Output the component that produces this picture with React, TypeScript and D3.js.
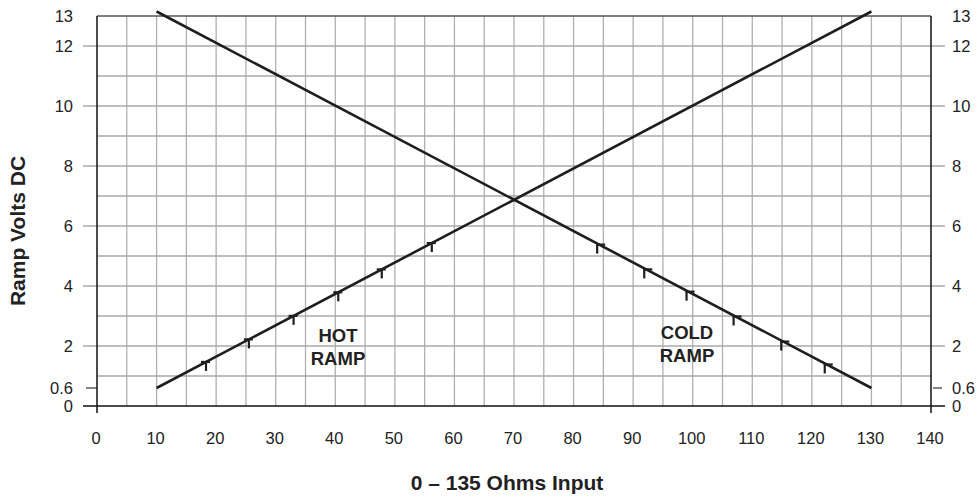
import React from "react";
import * as d3 from "d3";

const W = 978;
const H = 498;

const xTicks = [0, 10, 20, 30, 40, 50, 60, 70, 80, 90, 100, 110, 120, 130, 140];
const xGrid = d3.range(5, 140, 5);
const yGrid = d3.range(1, 13, 1);
const yLabels = [0, 0.6, 2, 4, 6, 8, 10, 12, 13];
const yExtended = [0, 2, 4, 6, 8, 10, 12];

const hotRamp: [number, number][] = [[10, 0.6], [130, 13.15]];
const coldRamp: [number, number][] = [[10, 13.15], [130, 0.6]];
const hotMarks = [18.3, 25.5, 33, 40.5, 47.8, 56.2];
const coldMarks = [84.3, 92.2, 99.3, 107.2, 115.2, 122.5];

const xTitle = "0 – 135 Ohms Input";
const yTitle = "Ramp Volts DC";

const FONT = "Liberation Sans, Arial, Helvetica, sans-serif";

export default function App() {
  const x = d3.scaleLinear().domain([0, 140]).range([97, 931]);
  const y = d3.scaleLinear().domain([0, 13]).range([406, 16]);
  const line = d3.line<[number, number]>().x((d) => x(d[0])).y((d) => y(d[1]));
  const interp = (r: [number, number][], v: number) =>
    r[0][1] + ((v - r[0][0]) / (r[1][0] - r[0][0])) * (r[1][1] - r[0][1]);

  const x0 = x(0);
  const x1 = x(140);
  const fmt = (v: number) => (v === 0.6 ? "0.6" : String(v));

  return (
    <svg width={W} height={H} style={{ position: "absolute", left: 0, top: 0 }} fontFamily={FONT}>
      <rect width={W} height={H} fill="#fff" />
      {/* vertical grid */}
      {xGrid.map((v) => (
        <line key={"vx" + v} x1={x(v)} x2={x(v)} y1={y(13)} y2={y(0)} stroke="#b0b0b0" strokeWidth={1.3} />
      ))}
      {/* horizontal grid */}
      {yGrid.map((v) => {
        const ext = yExtended.includes(v);
        return (
          <line key={"hy" + v} x1={ext ? x0 - 14 : x0} x2={ext ? x1 + 14 : x1} y1={y(v)} y2={y(v)} stroke="#a8a8a8" strokeWidth={1.3} />
        );
      })}
      {/* 0.6 ticks */}
      <line x1={x0 - 11} x2={x0} y1={y(0.6)} y2={y(0.6)} stroke="#333" strokeWidth={1.2} />
      <line x1={x1 + 2} x2={x1 + 11} y1={y(0.6)} y2={y(0.6)} stroke="#333" strokeWidth={1.2} />
      {/* top border */}
      <line x1={x0} x2={x1} y1={y(13)} y2={y(13)} stroke="#555" strokeWidth={1.5} />
      {/* axes */}
      <line x1={x0 - 14} x2={x1 + 14} y1={y(0)} y2={y(0)} stroke="#111" strokeWidth={1.5} />
      <line x1={x0} x2={x0} y1={y(13)} y2={y(0) + 7} stroke="#111" strokeWidth={1.5} />
      <line x1={x1} x2={x1} y1={y(13)} y2={y(0) + 7} stroke="#111" strokeWidth={1.5} />

      {/* ramps */}
      <path d={line(hotRamp) || ""} fill="none" stroke="#1e1e1e" strokeWidth={2.6} />
      <path d={line(coldRamp) || ""} fill="none" stroke="#1e1e1e" strokeWidth={2.6} />
      {hotMarks.map((v) => {
        const px = x(v);
        const py = y(interp(hotRamp, v));
        return (
          <g key={"hm" + v} stroke="#1e1e1e" strokeWidth={2.2}>
            <line x1={px - 5} x2={px + 4} y1={py} y2={py} />
            <line x1={px} x2={px} y1={py} y2={py + 9} />
          </g>
        );
      })}
      {coldMarks.map((v) => {
        const px = x(v);
        const py = y(interp(coldRamp, v));
        return (
          <g key={"cm" + v} stroke="#1e1e1e" strokeWidth={2.2}>
            <line x1={px - 3} x2={px + 6} y1={py} y2={py} />
            <line x1={px - 2} x2={px - 2} y1={py} y2={py + 9} />
          </g>
        );
      })}

      {/* y labels */}
      {yLabels.map((v) => (
        <g key={"yl" + v} fontSize={16.5} fill="#222">
          <text x={73} y={y(v)} dy="0.36em" textAnchor="end">{fmt(v)}</text>
          <text x={952} y={y(v)} dy="0.36em" textAnchor="start">{fmt(v)}</text>
        </g>
      ))}
      {/* x labels */}
      {xTicks.map((v) => (
        <text key={"xl" + v} x={x(v) - 1} y={444} fontSize={16.5} fill="#222" textAnchor="middle">{v}</text>
      ))}

      {/* ramp labels */}
      <g fontSize={18.5} fontWeight="bold" fill="#222" textAnchor="middle">
        <text x={338} y={342}>HOT</text>
        <text x={338} y={365}>RAMP</text>
        <text x={687} y={339}>COLD</text>
        <text x={687} y={362}>RAMP</text>
      </g>

      {/* titles */}
      <text x={507} y={490} fontSize={21} fontWeight="bold" fill="#222" textAnchor="middle">{xTitle}</text>
      <text transform={`translate(25,231) rotate(-90)`} fontSize={21} fontWeight="bold" fill="#222" textAnchor="middle">{yTitle}</text>
    </svg>
  );
}
